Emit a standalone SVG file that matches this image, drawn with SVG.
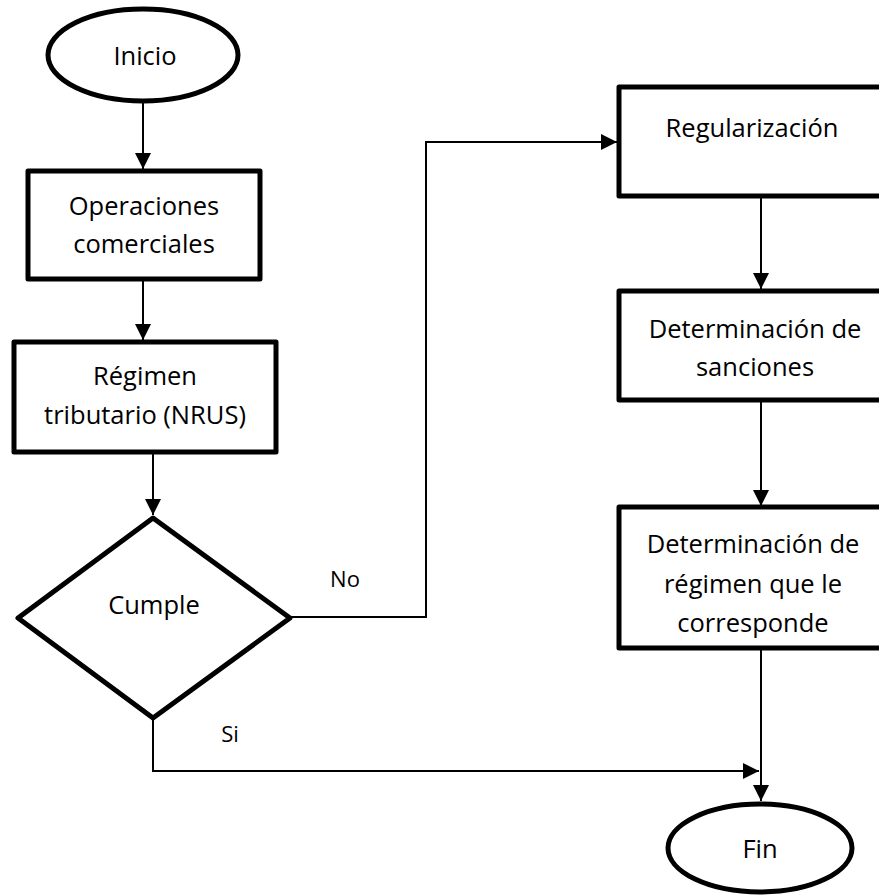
<svg xmlns="http://www.w3.org/2000/svg" width="879" height="896" viewBox="0 0 879 896">
<style>
.shape{fill:#fff;stroke:#000;stroke-width:5;stroke-linejoin:round}
.conn{fill:none;stroke:#000;stroke-width:2}
text{font-family:"Open Sans","Liberation Sans",sans-serif;font-size:25.5px;fill:#000;text-anchor:middle;dominant-baseline:central}
.lbl{font-size:22px}
</style>
<defs>
<marker id="arr" viewBox="0 0 10 10" refX="10" refY="5" markerWidth="8" markerHeight="8" markerUnits="strokeWidth" orient="auto">
<path d="M0,0 L10,5 L0,10 z" fill="#000"/>
</marker>
</defs>
<rect width="879" height="896" fill="#fff"/>
<g id="connectors">
<line class="conn" x1="143" y1="102" x2="143" y2="169" marker-end="url(#arr)"/>
<line class="conn" x1="143" y1="280" x2="143" y2="340" marker-end="url(#arr)"/>
<line class="conn" x1="153" y1="452" x2="153" y2="515" marker-end="url(#arr)"/>
<polyline class="conn" points="290,617 426,617 426,142 617,142" marker-end="url(#arr)"/>
<polyline class="conn" points="153,718 153,771 759,771" marker-end="url(#arr)"/>
<line class="conn" x1="761" y1="197" x2="761" y2="289" marker-end="url(#arr)"/>
<line class="conn" x1="761" y1="401" x2="761" y2="506" marker-end="url(#arr)"/>
<line class="conn" x1="761" y1="648" x2="761" y2="801" marker-end="url(#arr)"/>
<text class="lbl" x="345" y="578">No</text>
<text class="lbl" x="230" y="733">Si</text>
</g>
<g id="inicio">
<ellipse class="shape" cx="143" cy="55" rx="95" ry="46"/>
<text x="145" y="55">Inicio</text>
</g>
<g id="operaciones">
<rect class="shape" x="28" y="171" width="232" height="108"/>
<text x="144" y="205">Operaciones</text>
<text x="144" y="243">comerciales</text>
</g>
<g id="regimen">
<rect class="shape" x="14" y="342" width="262" height="110"/>
<text x="145" y="375">Régimen</text>
<text x="145" y="414">tributario (NRUS)</text>
</g>
<g id="cumple">
<polygon class="shape" points="153,518 290,618 153,718 18,618"/>
<text x="154" y="604">Cumple</text>
</g>
<g id="regularizacion">
<rect class="shape" x="619" y="87" width="290" height="109"/>
<text x="752" y="127">Regularización</text>
</g>
<g id="sanciones">
<rect class="shape" x="619" y="291" width="290" height="109"/>
<text x="755" y="328">Determinación de</text>
<text x="755" y="366">sanciones</text>
</g>
<g id="determinacion">
<rect class="shape" x="619" y="507" width="290" height="141"/>
<text x="753" y="543">Determinación de</text>
<text x="753" y="583">régimen que le</text>
<text x="753" y="622">corresponde</text>
</g>
<g id="fin">
<ellipse class="shape" cx="760" cy="848" rx="92" ry="44"/>
<text x="760" y="848">Fin</text>
</g>
</svg>
